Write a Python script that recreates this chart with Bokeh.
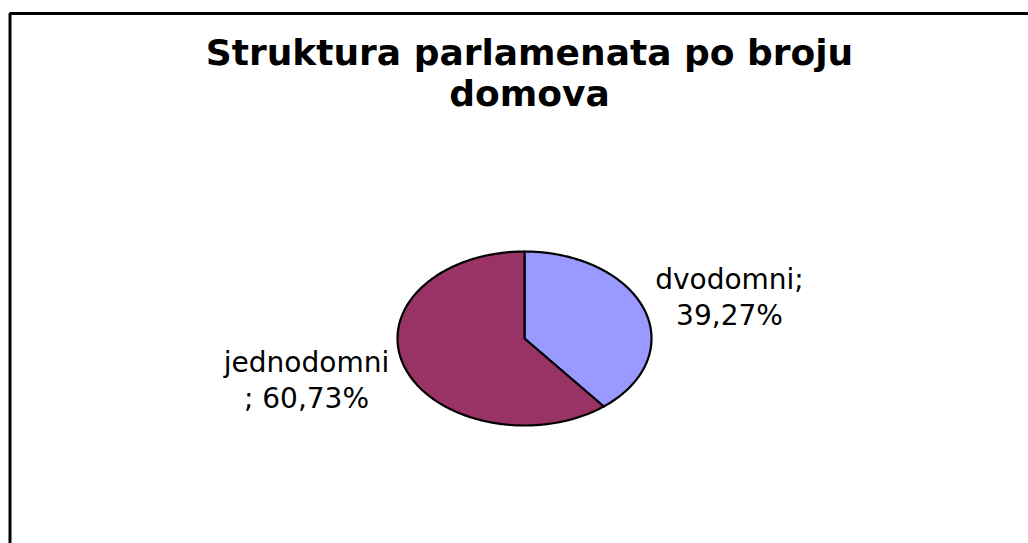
import numpy as np
from bokeh.plotting import figure
from bokeh.models import Range1d
from bokeh.core.properties import value
from bokeh.embed import file_html
from bokeh.resources import INLINE

# ---- data ----
categories = ["dvodomni", "jednodomni"]
shares = [39.27, 60.73]
colors = ["#9999FF", "#993366"]
title_text = "Struktura parlamenata po broju\ndomova"
label_breaks = [";\n", "\n; "]

# ---- layout ----
W, H = 1028, 543
cx, cy, rx, ry = 524, 338, 127, 87   # pie centre / radii in pixels
label_px = [(729, 297), (306, 380)]  # label block centres in pixels

p = figure(width=W, height=H, output_backend="svg", toolbar_location=None,
           x_range=Range1d(0, W), y_range=Range1d(H, 0),
           x_axis_location=None, y_axis_location=None, min_border=0)
p.grid.visible = False
p.outline_line_color = None
p.background_fill_color = "white"
p.border_fill_color = "white"

p.extra_x_ranges = {"pie": Range1d(-cx / rx, (W - cx) / rx)}
p.extra_y_ranges = {"pie": Range1d((cy - H) / ry, cy / ry)}

# frame (left and top edges of chart area)
p.line(x=[9.5, 9.5, W], y=[H, 13, 13], line_color="black", line_width=3)

# pie slices
total = sum(shares)
xs, ys = [], []
cum = 0.0
for v in shares:
    a0 = np.deg2rad(90 - cum / total * 360)
    cum += v
    a1 = np.deg2rad(90 - cum / total * 360)
    t = np.linspace(a0, a1, 300)
    xs.append([0.0] + list(np.cos(t)))
    ys.append([0.0] + list(np.sin(t)))

p.patches(xs, ys, fill_color=colors, line_color="black", line_width=2.2,
          line_join="round", x_range_name="pie", y_range_name="pie")

# data labels
texts = [f"{c}{b}{f'{v:.2f}'.replace('.', ',')}%"
         for c, b, v in zip(categories, label_breaks, shares)]
p.text(x=[q[0] for q in label_px], y=[q[1] for q in label_px], text=texts,
       text_align="center", text_baseline="middle",
       text_font=value("DejaVu Sans"), text_font_size="28px",
       text_line_height=1.1, text_color="black")

# title
p.text(x=[529], y=[31], text=[title_text], text_align="center",
       text_baseline="top", text_font=value("DejaVu Sans"),
       text_font_size="36px", text_font_style="bold",
       text_line_height=1.02, text_color="black")

open("out.html", "w").write(file_html(p, INLINE))
